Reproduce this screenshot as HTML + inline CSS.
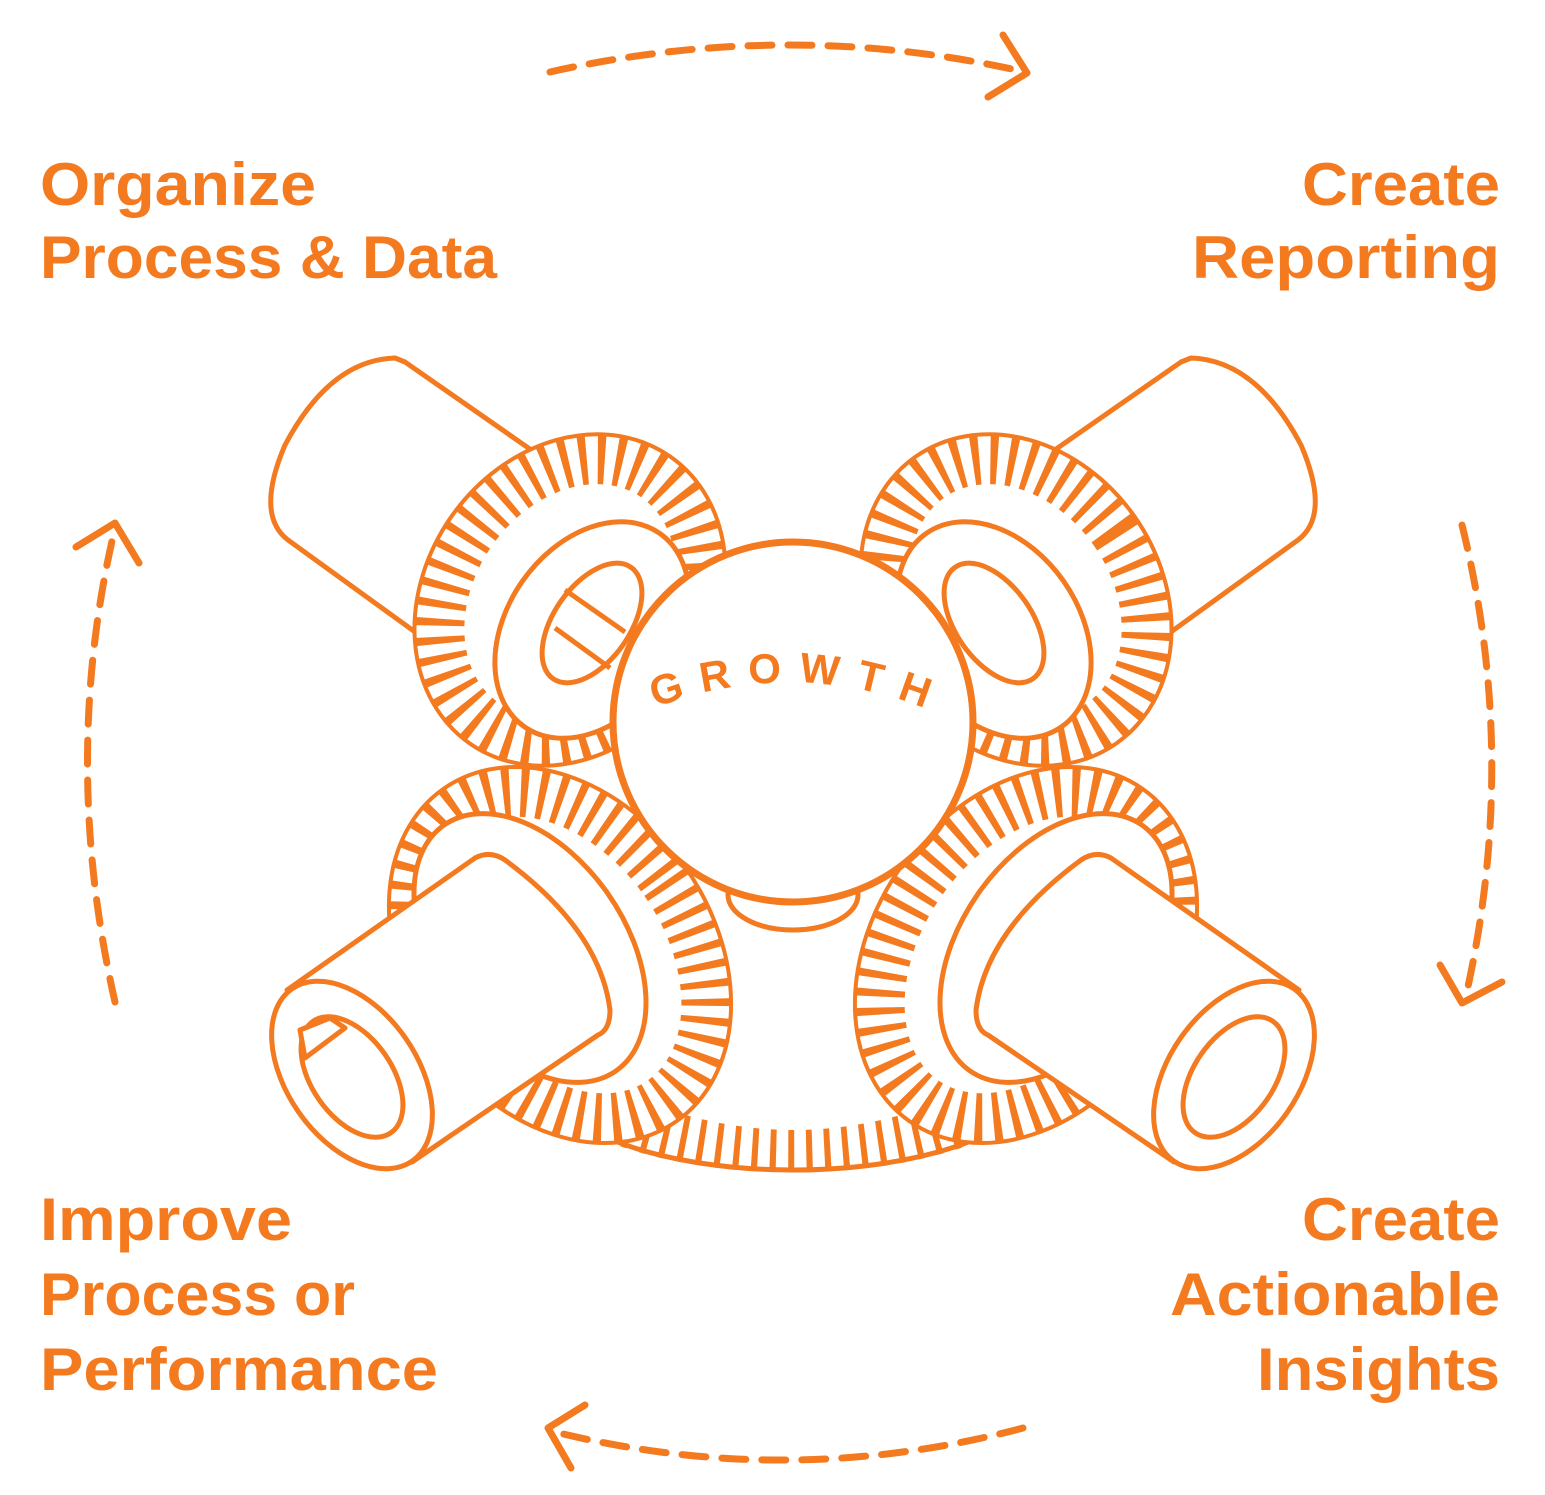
<!DOCTYPE html>
<html><head><meta charset="utf-8"><style>
html,body{margin:0;padding:0;background:#fff}
svg{display:block}
text{font-family:"Liberation Sans",sans-serif;font-weight:bold;fill:#F47A20}
</style></head><body>
<svg width="1545" height="1495" viewBox="0 0 1545 1495" xmlns="http://www.w3.org/2000/svg">
<g fill="none" stroke="#F47A20" stroke-width="7" stroke-linecap="round" stroke-linejoin="round">
 <path d="M550,72 Q790,18 1025,72" stroke-dasharray="24 16"/>
 <path d="M1003,35 L1027,73 L988,97"/>
 <path d="M1462,525 Q1520,760 1465,1000" stroke-dasharray="24 16"/>
 <path d="M1440,965 L1462,1003 L1502,982"/>
 <path d="M1023,1428 Q790,1490 555,1432" stroke-dasharray="24 16"/>
 <path d="M585,1405 L548,1428 L571,1468"/>
 <path d="M115,1002 Q60,760 115,528" stroke-dasharray="24 16"/>
 <path d="M76,547 L115,523 L139,563"/>
</g>
<g stroke="#F47A20" stroke-width="5" stroke-linejoin="round">
 <!-- bottom gear -->
 <path d="M545,1060 A250,100 0 0 0 1041,1060" fill="none" stroke-width="50" stroke-dasharray="6 12"/>
 <path d="M540,1070 A253,100 0 0 0 1046,1070" fill="none"/>
 <path d="M560,1060 Q793,1200 1026,1060" fill="#fff" stroke="none"/>

 <!-- top-left -->
 <path d="M405,362 L560,470 L440,650 L288,540 Q255,515 285,445 Q330,360 395,358 Z" fill="#fff"/>
 <ellipse cx="570" cy="600" rx="145" ry="175" transform="rotate(35 570 600)" fill="#fff" stroke-width="4"/>
 <ellipse cx="570" cy="600" rx="120" ry="150" transform="rotate(35 570 600)" fill="none" stroke-width="50" stroke-dasharray="7 11"/>
 <ellipse cx="592" cy="630" rx="85" ry="118" transform="rotate(35 592 630)" fill="#fff"/>
 <ellipse cx="592" cy="623" rx="38" ry="68" transform="rotate(35 592 623)" fill="#fff"/>
 <path d="M565,590 L625,632 M555,628 L610,668" fill="none"/>

 <!-- top-right -->
 <path d="M1181,362 L1026,470 L1146,650 L1298,540 Q1331,515 1301,445 Q1256,360 1191,358 Z" fill="#fff"/>
 <ellipse cx="1016" cy="600" rx="145" ry="175" transform="rotate(-35 1016 600)" fill="#fff" stroke-width="4"/>
 <ellipse cx="1016" cy="600" rx="120" ry="150" transform="rotate(-35 1016 600)" fill="none" stroke-width="50" stroke-dasharray="7 11"/>
 <ellipse cx="994" cy="630" rx="85" ry="118" transform="rotate(-35 994 630)" fill="#fff"/>
 <ellipse cx="994" cy="623" rx="38" ry="68" transform="rotate(-35 994 623)" fill="#fff"/>

 <!-- bottom-left -->
 <ellipse cx="560" cy="955" rx="153" ry="203" transform="rotate(-35 560 955)" fill="#fff" stroke-width="4"/>
 <ellipse cx="560" cy="955" rx="128" ry="178" transform="rotate(-35 560 955)" fill="none" stroke-width="50" stroke-dasharray="7 11"/>
 <ellipse cx="530" cy="948" rx="95" ry="150" transform="rotate(-35 530 948)" fill="#fff"/>
 <path d="M475,858 Q490,850 505,860 Q600,930 610,1010 Q610,1030 598,1035 L412,1162 L287,990 Z" fill="#fff"/>
 <ellipse cx="352" cy="1075" rx="65" ry="105" transform="rotate(-35 352 1075)" fill="#fff"/>
 <ellipse cx="352" cy="1077" rx="40" ry="68" transform="rotate(-35 352 1077)" fill="#fff"/>
 <path d="M300,1030 L330,1018 L345,1028 L305,1058 Z" fill="#fff"/>

 <!-- bottom-right -->
 <ellipse cx="1026" cy="955" rx="153" ry="203" transform="rotate(35 1026 955)" fill="#fff" stroke-width="4"/>
 <ellipse cx="1026" cy="955" rx="128" ry="178" transform="rotate(35 1026 955)" fill="none" stroke-width="50" stroke-dasharray="7 11"/>
 <ellipse cx="1056" cy="948" rx="95" ry="150" transform="rotate(35 1056 948)" fill="#fff"/>
 <path d="M1111,858 Q1096,850 1081,860 Q986,930 976,1010 Q976,1030 988,1035 L1174,1162 L1299,990 Z" fill="#fff"/>
 <ellipse cx="1234" cy="1075" rx="65" ry="105" transform="rotate(35 1234 1075)" fill="#fff"/>
 <ellipse cx="1234" cy="1077" rx="40" ry="68" transform="rotate(35 1234 1077)" fill="#fff"/>

 <!-- center -->
 <ellipse cx="793" cy="895" rx="65" ry="35" fill="#fff"/>
 <circle cx="793" cy="722" r="180" fill="#fff" stroke-width="7"/>
</g>
<path id="arc" d="M655,708 Q793,655 935,712" fill="none"/>
<text font-size="42" letter-spacing="17"><textPath href="#arc">GROWTH</textPath></text>

<g font-size="60">
 <text x="40" y="205" textLength="276" lengthAdjust="spacingAndGlyphs">Organize</text>
 <text x="40" y="278" textLength="457" lengthAdjust="spacingAndGlyphs">Process &amp; Data</text>
 <text x="1302" y="205" textLength="198" lengthAdjust="spacingAndGlyphs">Create</text>
 <text x="1192" y="278" textLength="308" lengthAdjust="spacingAndGlyphs">Reporting</text>
 <text x="40" y="1240" textLength="252" lengthAdjust="spacingAndGlyphs">Improve</text>
 <text x="40" y="1315" textLength="315" lengthAdjust="spacingAndGlyphs">Process or</text>
 <text x="40" y="1390" textLength="398" lengthAdjust="spacingAndGlyphs">Performance</text>
 <text x="1302" y="1240" textLength="198" lengthAdjust="spacingAndGlyphs">Create</text>
 <text x="1170" y="1315" textLength="330" lengthAdjust="spacingAndGlyphs">Actionable</text>
 <text x="1257" y="1390" textLength="243" lengthAdjust="spacingAndGlyphs">Insights</text>
</g>
</svg>
</body></html>
